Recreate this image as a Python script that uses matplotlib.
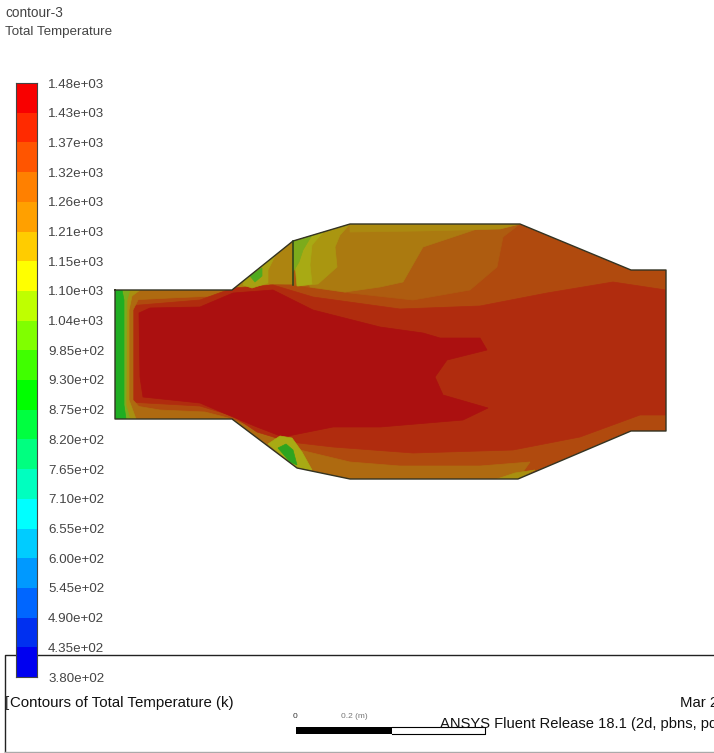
import matplotlib
matplotlib.use('Agg')
import matplotlib.pyplot as plt
from matplotlib.colors import ListedColormap, BoundaryNorm
from matplotlib.patches import Polygon

# Colour legend
level_labels = ['1.48e+03', '1.43e+03', '1.37e+03', '1.32e+03', '1.26e+03', '1.21e+03', '1.15e+03',
                '1.10e+03', '1.04e+03', '9.85e+02', '9.30e+02', '8.75e+02', '8.20e+02', '7.65e+02',
                '7.10e+02', '6.55e+02', '6.00e+02', '5.45e+02', '4.90e+02', '4.35e+02', '3.80e+02']
level_values = [1480, 1425, 1370, 1315, 1260, 1205, 1150, 1095, 1040, 985, 930, 875, 820, 765,
                710, 655, 600, 545, 490, 435, 380]
band_colors = ['#0000f0', '#0030f0', '#0066ff', '#0099ff', '#00ccff', '#00ffff', '#00ffbf', '#00ff80',
               '#00ff40', '#00ff00', '#40ff00', '#80ff00', '#bfff00', '#ffff00', '#ffcc00', '#ffa000',
               '#ff8000', '#ff5500', '#ff2a00', '#f80000']

# Geometry outline (picture pixels)
outline = [(115, 290), (232, 290), (293, 241), (350, 224), (520, 224), (631, 270), (666, 270),
           (666, 431), (631, 431), (518, 479), (350, 479), (297, 468), (232, 419), (115, 419)]
inner_wall = [(293, 241), (293, 285)]

# Temperature regions, painted in this order
upper_orange = [(270, 283), (293, 285), (350, 293), (413, 300), (470, 290), (497, 267), (503, 237), (520, 224), (293, 224)]
upper_gold = [(350, 224), (480, 228), (423, 247), (403, 282), (380, 287), (345, 292), (310, 287), (300, 240)]
upper_olive = [(293, 241), (350, 224), (340, 235), (335, 247), (337, 267), (318, 284), (298, 286)]
upper_yellow = [(293, 241), (325, 230), (312, 245), (310, 265), (312, 284), (297, 286)]
upper_green = [(293, 241), (312, 235), (303, 250), (299, 262), (293, 272)]
top_strip = [(350, 224), (520, 224), (500, 229), (420, 231), (350, 232)]
cone_gold = [(232, 290), (293, 241), (293, 284), (270, 284), (245, 290)]
cone_olive = [(245, 278), (275, 256), (268, 270), (268, 283), (252, 288), (243, 285)]
cone_green = [(250, 276), (262, 268), (262, 276), (255, 282)]
inlet_top = [(115, 290), (232, 290), (215, 296), (170, 298), (130, 300), (115, 300)]
inlet_bottom = [(115, 419), (232, 419), (205, 412), (160, 410), (130, 405), (115, 405)]
mid_red = [(128, 306), (200, 300), (233, 288), (273, 285), (313, 297), (400, 309), (480, 306), (547, 293), (613, 282), (666, 290),
           (666, 415), (640, 415), (580, 437), (513, 450), (413, 453), (333, 447), (290, 442), (257, 432), (233, 416), (200, 406), (128, 402)]
core = [(139, 313), (150, 308), (200, 307), (233, 293), (273, 290), (313, 310), (380, 327), (423, 333), (440, 338), (480, 338), (487, 350),
        (447, 360), (435, 377), (443, 395), (488, 408), (463, 420), (380, 427), (333, 427), (283, 437), (257, 427), (233, 417), (200, 403),
        (143, 397), (140, 377)]
bottom_gold = [(232, 419), (262, 432), (300, 450), (350, 462), (400, 466), (480, 466), (530, 462), (518, 479), (350, 479), (297, 468)]
bottom_corner = [(497, 479), (518, 479), (535, 470), (515, 473)]
lower_yellow = [(268, 444), (280, 436), (292, 438), (302, 452), (312, 470), (297, 468)]
lower_green = [(278, 448), (286, 444), (293, 450), (297, 465), (290, 462)]
inlet_4 = [(115, 290), (160, 290), (140, 296), (133, 310), (133, 400), (150, 419), (115, 419)]
inlet_3 = [(115, 290), (140, 290), (132, 296), (129, 310), (129, 400), (136, 419), (115, 419)]
inlet_2 = [(115, 290), (130, 290), (127, 300), (126, 405), (130, 419), (115, 419)]
inlet_1 = [(115, 290), (122, 290), (124, 300), (124, 405), (126, 419), (115, 419)]

regions = [(outline, '#b04a0e'), (upper_orange, '#ae5c10'), (upper_gold, '#ab7a10'), (top_strip, '#ab8a10'),
           (upper_olive, '#aa9610'), (upper_yellow, '#a8aa14'), (upper_green, '#7cab1c'), (cone_gold, '#ad8410'),
           (bottom_gold, '#ae6a10'), (bottom_corner, '#a89010'), (inlet_top, '#ae6a10'), (inlet_bottom, '#ae6a10'),
           (mid_red, '#b02c0e'), (core, '#ab1010'),
           (cone_olive, '#a8a012'), (cone_green, '#4faa1e'), (lower_yellow, '#a8aa14'), (lower_green, '#2da41f'),
           (inlet_4, '#ae6a10'), (inlet_3, '#a89010'), (inlet_2, '#7cab1c'), (inlet_1, '#1fae22')]

plt.rcParams['font.family'] = ['Liberation Sans', 'DejaVu Sans']

fig = plt.figure(figsize=(7.14, 7.53), dpi=100)
ax = fig.add_axes([0, 0, 1, 1])
ax.set_xlim(0, 714)
ax.set_ylim(753, 0)
ax.axis('off')

# Contour regions clipped to the geometry
clip = Polygon(outline, closed=True, transform=ax.transData, facecolor='none', edgecolor='none')
ax.add_patch(clip)
for points, color in regions:
    patch = ax.add_patch(Polygon(points, closed=True, facecolor=color, edgecolor=color, linewidth=0.5))
    patch.set_clip_path(clip)
ax.plot([p[0] for p in outline] + [outline[0][0]], [p[1] for p in outline] + [outline[0][1]], color='#333322', lw=1.0)
ax.plot([p[0] for p in inner_wall], [p[1] for p in inner_wall], color='#24401c', lw=1.1)

# Footer box
ax.plot([714, 5, 5], [655, 655, 753], color='#222222', lw=1.0)
ax.plot([5, 714], [752, 752], color='#aaaaaa', lw=1.0)

# Scale bar
ax.fill([296, 392, 392, 296], [727, 727, 734, 734], color='black', lw=0)
ax.plot([392, 485, 485, 392], [727, 727, 734, 734], color='black', lw=0.8)
ax.text(295, 717, '0', fontsize=6, color='#333333', ha='center', va='center')
ax.text(354, 717, '0.2 (m)', fontsize=6, color='#777777', ha='center', va='center')

# Header and footer text
ax.text(5, 13, 'contour-3', fontsize=9.8, color='#444444', va='center')
ax.text(5, 32, 'Total Temperature', fontsize=9.6, color='#444444', va='center')
ax.text(5, 703, '[', fontsize=10.8, color='#222222', va='center')
ax.text(10, 703, 'Contours of Total Temperature (k)', fontsize=10.8, color='#111111', va='center')
ax.text(680, 703, 'Mar 2', fontsize=10.8, color='#111111', va='center', clip_on=True)
ax.text(440, 724, 'ANSYS Fluent Release 18.1 (2d, pbns, pdf', fontsize=10.6, color='#111111', va='center', clip_on=True)

# Colour bar
cax = fig.add_axes([16 / 714, 1 - 677 / 753, 21 / 714, 594 / 753])
levels = level_values[::-1]
cmap = ListedColormap(band_colors)
norm = BoundaryNorm(levels, cmap.N)
cax.pcolormesh([0, 1], levels, [[v + 1] for v in levels[:-1]], cmap=cmap, norm=norm)
cax.set_xticks([])
cax.yaxis.tick_right()
cax.set_yticks(level_values)
cax.set_yticklabels(level_labels, fontsize=9.6, color='#444444')
cax.tick_params(axis='y', length=0, pad=8)
cax.set_ylim(380, 1480)
for spine in cax.spines.values():
    spine.set_color('#444444')
    spine.set_linewidth(0.8)

fig.savefig('out.png', dpi=100)
